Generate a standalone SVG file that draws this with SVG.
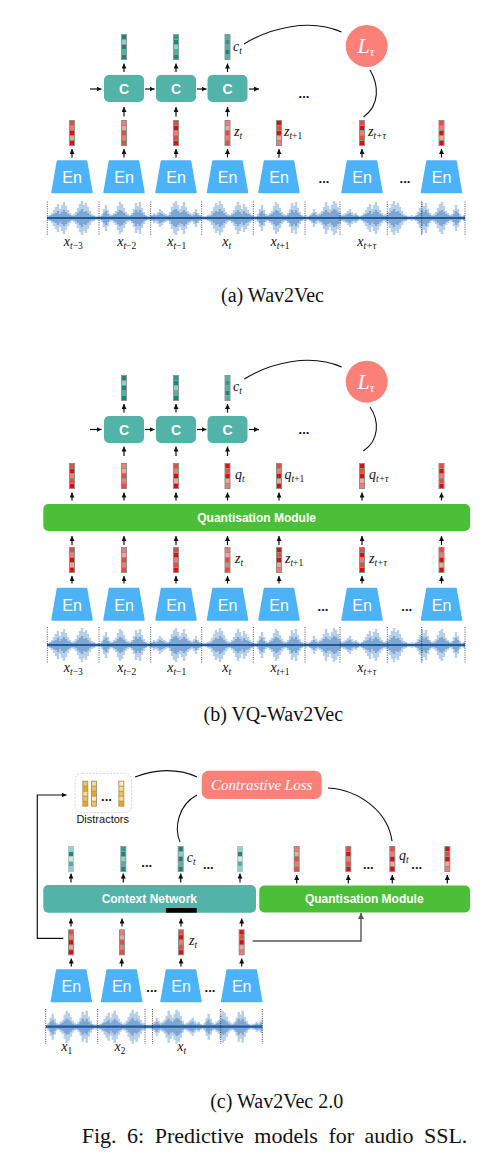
<svg xmlns="http://www.w3.org/2000/svg" xmlns:xlink="http://www.w3.org/1999/xlink" width="496" height="1170" viewBox="0 0 496 1170">
<style>
.ent{font-family:"Liberation Sans",Arial,sans-serif;font-size:16px;fill:#fff;text-anchor:middle}
.cbox{fill:#52b3a8}
.qbox{fill:#4cbf38}
.ct{font-family:"Liberation Sans",Arial,sans-serif;font-weight:bold;font-size:14px;fill:#fff;text-anchor:middle}
.bt{font-family:"Liberation Sans",Arial,sans-serif;font-weight:bold;font-size:12px;fill:#fff;text-anchor:middle}
.arr{stroke:#111;stroke-width:1.2;fill:none;marker-end:url(#ah)}
.arrg{stroke:#555;stroke-width:1.4;fill:none;marker-end:url(#ahg)}
.conn{fill:none;stroke:#111;stroke-width:1.1}
.m{font-family:"Liberation Serif","Times New Roman",serif;font-style:italic;font-size:14px;fill:#111}
.mc{font-family:"Liberation Serif","Times New Roman",serif;font-style:italic;font-size:14px;fill:#111;text-anchor:middle}
.s{font-size:9.5px}
.n{font-style:normal}
.dots{font-family:"Liberation Sans",Arial,sans-serif;font-weight:bold;font-size:13px;fill:#111;text-anchor:middle}
.cap{font-family:"Liberation Serif","Times New Roman",serif;font-size:20px;fill:#111;text-anchor:middle}
.sep{stroke:#222;stroke-width:0.8;stroke-dasharray:1 1.3}
.wl{fill:none;stroke:#b7cfe9;stroke-width:2.4}
.wm{fill:none;stroke:#6f9bcd;stroke-width:2.3;opacity:.8}
.wc{fill:none;stroke:#1f5a9c;stroke-width:2.2}
.loss{fill:#fa8078}
</style>
<defs>
<marker id="ah" viewBox="0 0 10 10" refX="10" refY="5" markerWidth="5" markerHeight="5" markerUnits="userSpaceOnUse" orient="auto"><path d="M0,0L10,5L0,10z" fill="#111"/></marker>
<marker id="ahg" viewBox="0 0 10 10" refX="10" refY="5" markerWidth="6" markerHeight="6" markerUnits="userSpaceOnUse" orient="auto"><path d="M0,0L10,5L0,10z" fill="#555"/></marker>
<clipPath id="clip418"><rect x="0" y="-20" width="418" height="40"/></clipPath>
<clipPath id="clip217"><rect x="0" y="-20" width="216.6" height="40"/></clipPath>
<path id="trap" d="M-14.5,0H14.5L20,31.5H-20Z" fill="#4cb3f9" stroke="#4cb3f9" stroke-width="1.5" stroke-linejoin="round"/>
<g id="segA"><path class="wl" d="M1-2v4M3-3v6M5-5v10M7-8v16M9-11v22M11-14v28M13-9v18M15-13v26M17-16v32M19-12v24M21-8v16M23-5v10M25-3v6M27-4v8M29-6v12M31-10v20M33-14v28M35-17v34M37-13v26M39-15v30M41-11v22M43-7v14M45-4v8M47-3v6M49-2v4M51-2v4"/><path class="wm" d="M1-1v2M3-2v4M5-3v6M7-4v8M9-5v10M11-7v14M13-4v8M15-6v12M17-8v16M19-6v12M21-4v8M23-3v6M25-2v4M27-2v4M29-3v6M31-5v10M33-7v14M35-9v18M37-6v12M39-7v14M41-5v10M43-3v6M45-2v4M47-2v4M49-1v2M51-1v2"/></g>
<g id="segB"><path class="wl" d="M1-2v4M3-4v8M5-9v18M7-13v26M9-8v16M11-4v8M13-3v6M15-5v10M17-7v14M19-12v24M21-16v32M23-14v28M25-10v20M27-6v12M29-4v8M31-3v6M33-5v10M35-9v18M37-15v30M39-12v24M41-16v32M43-10v20M45-6v12M47-3v6M49-2v4M51-3v6"/><path class="wm" d="M1-1v2M3-2v4M5-5v10M7-7v14M9-4v8M11-2v4M13-2v4M15-3v6M17-4v8M19-6v12M21-8v16M23-7v14M25-5v10M27-3v6M29-2v4M31-2v4M33-3v6M35-5v10M37-8v16M39-6v12M41-8v16M43-5v10M45-3v6M47-2v4M49-1v2M51-1v2"/></g>
<g id="segC"><path class="wl" d="M1-3v6M3-5v10M5-4v8M7-6v12M9-9v18M11-7v14M13-5v10M15-4v8M17-3v6M19-6v12M21-11v22M23-15v30M25-17v34M27-13v26M29-9v18M31-12v24M33-16v32M35-11v22M37-7v14M39-5v10M41-4v8M43-6v12M45-9v18M47-5v10M49-3v6M51-2v4"/><path class="wm" d="M1-2v4M3-3v6M5-2v4M7-3v6M9-5v10M11-4v8M13-3v6M15-2v4M17-2v4M19-3v6M21-6v12M23-8v16M25-9v18M27-7v14M29-5v10M31-6v12M33-8v16M35-6v12M37-4v8M39-3v6M41-2v4M43-3v6M45-5v10M47-3v6M49-2v4M51-1v2"/></g>
<g id="wave418"><g clip-path="url(#clip418)">
<use href="#segA" x="0"/><use href="#segB" x="52"/><use href="#segC" x="104"/>
<use href="#segA" transform="translate(208,0) scale(-1,1)"/><use href="#segB" x="208"/>
<use href="#segC" transform="translate(312,0) scale(-1,1)"/><use href="#segA" x="312"/>
<use href="#segB" transform="translate(416,0) scale(-1,1)"/><use href="#segC" x="416"/>
<path class="wc" d="M0,0H418"/></g></g>
<g id="wave217"><g clip-path="url(#clip217)">
<use href="#segB" x="0"/><use href="#segA" x="52"/>
<use href="#segC" transform="translate(156,0) scale(-1,1)"/><use href="#segB" x="156"/><use href="#segC" x="208"/>
<path class="wc" d="M0,0H217"/></g></g>
<g id="vr1"><rect width="6" height="26" fill="#8e8e8e"/><rect x="1" y="1" width="4" height="4" fill="#ec4a40"/><rect x="1" y="6" width="4" height="4" fill="#f27b72"/><rect x="1" y="11" width="4" height="4" fill="#e30b0b"/><rect x="1" y="16" width="4" height="4" fill="#f6a29b"/><rect x="1" y="21" width="4" height="4" fill="#e30b0b"/></g>
<g id="vr2"><rect width="6" height="26" fill="#8e8e8e"/><rect x="1" y="1" width="4" height="4" fill="#f27b72"/><rect x="1" y="6" width="4" height="4" fill="#f6a29b"/><rect x="1" y="11" width="4" height="4" fill="#ec4a40"/><rect x="1" y="16" width="4" height="4" fill="#f27b72"/><rect x="1" y="21" width="4" height="4" fill="#ec4a40"/></g>
<g id="vr3"><rect width="6" height="26" fill="#8e8e8e"/><rect x="1" y="1" width="4" height="4" fill="#ec4a40"/><rect x="1" y="6" width="4" height="4" fill="#e30b0b"/><rect x="1" y="11" width="4" height="4" fill="#f27b72"/><rect x="1" y="16" width="4" height="4" fill="#ec4a40"/><rect x="1" y="21" width="4" height="4" fill="#e30b0b"/></g>
<g id="vr4"><rect width="6" height="26" fill="#8e8e8e"/><rect x="1" y="1" width="4" height="4" fill="#e30b0b"/><rect x="1" y="6" width="4" height="4" fill="#ec4a40"/><rect x="1" y="11" width="4" height="4" fill="#e30b0b"/><rect x="1" y="16" width="4" height="4" fill="#f6a29b"/><rect x="1" y="21" width="4" height="4" fill="#f27b72"/></g>
<g id="vt1"><rect width="6" height="26" fill="#8e9a98"/><rect x="1" y="1" width="4" height="4" fill="#15897c"/><rect x="1" y="6" width="4" height="4" fill="#8fd1c7"/><rect x="1" y="11" width="4" height="4" fill="#15897c"/><rect x="1" y="16" width="4" height="4" fill="#4fb0a4"/><rect x="1" y="21" width="4" height="4" fill="#15897c"/></g>
<g id="vt2"><rect width="6" height="26" fill="#8e9a98"/><rect x="1" y="1" width="4" height="4" fill="#2b9c8f"/><rect x="1" y="6" width="4" height="4" fill="#15897c"/><rect x="1" y="11" width="4" height="4" fill="#8fd1c7"/><rect x="1" y="16" width="4" height="4" fill="#4fb0a4"/><rect x="1" y="21" width="4" height="4" fill="#15897c"/></g>
<g id="vt3"><rect width="6" height="26" fill="#8e9a98"/><rect x="1" y="1" width="4" height="4" fill="#4fb0a4"/><rect x="1" y="6" width="4" height="4" fill="#2b9c8f"/><rect x="1" y="11" width="4" height="4" fill="#4fb0a4"/><rect x="1" y="16" width="4" height="4" fill="#15897c"/><rect x="1" y="21" width="4" height="4" fill="#4fb0a4"/></g>
<g id="vt4"><rect width="6" height="26" fill="#b5c4c2"/><rect x="1" y="1" width="4" height="4" fill="#8fd1c7"/><rect x="1" y="6" width="4" height="4" fill="#15897c"/><rect x="1" y="11" width="4" height="4" fill="#c8ebe6"/><rect x="1" y="16" width="4" height="4" fill="#4fb0a4"/><rect x="1" y="21" width="4" height="4" fill="#8fd1c7"/></g>
<g id="vy1"><rect width="6" height="26" fill="#a89a80"/><rect x="1" y="1" width="4" height="4" fill="#f4c24a"/><rect x="1" y="6" width="4" height="4" fill="#eea70f"/><rect x="1" y="11" width="4" height="4" fill="#f9dc8c"/><rect x="1" y="16" width="4" height="4" fill="#f4c24a"/><rect x="1" y="21" width="4" height="4" fill="#eea70f"/></g>
<g id="vy2"><rect width="6" height="26" fill="#a89a80"/><rect x="1" y="1" width="4" height="4" fill="#f9dc8c"/><rect x="1" y="6" width="4" height="4" fill="#f4c24a"/><rect x="1" y="11" width="4" height="4" fill="#eea70f"/><rect x="1" y="16" width="4" height="4" fill="#fcebbd"/><rect x="1" y="21" width="4" height="4" fill="#f4c24a"/></g>
<g id="vy3"><rect width="6" height="26" fill="#a89a80"/><rect x="1" y="1" width="4" height="4" fill="#fcebbd"/><rect x="1" y="6" width="4" height="4" fill="#f9dc8c"/><rect x="1" y="11" width="4" height="4" fill="#f4c24a"/><rect x="1" y="16" width="4" height="4" fill="#f9dc8c"/><rect x="1" y="21" width="4" height="4" fill="#eea70f"/></g>
</defs>
<rect width="496" height="1170" fill="#fff"/>

<!-- ========== (a) Wav2Vec ========== -->
<g id="a-wave">
<use href="#wave418" x="47" y="218"/>
<path class="sep" d="M47.3,201.5V235M99,201.5V235M150.7,201.5V235M201.7,201.5V235M253.3,201.5V235M305,201.5V235M340,201.5V235M387.3,201.5V235M421.7,201.5V235M465,201.5V235"/>
</g>
<g id="a-xlabels">
<text class="mc" x="73.3" y="246">x<tspan class="s" dy="3">t<tspan class="n">−3</tspan></tspan></text>
<text class="mc" x="126.7" y="246">x<tspan class="s" dy="3">t<tspan class="n">−2</tspan></tspan></text>
<text class="mc" x="176.7" y="246">x<tspan class="s" dy="3">t<tspan class="n">−1</tspan></tspan></text>
<text class="mc" x="226.7" y="246">x<tspan class="s" dy="3">t</tspan></text>
<text class="mc" x="280" y="246">x<tspan class="s" dy="3">t<tspan class="n">+1</tspan></tspan></text>
<text class="mc" x="366.7" y="246">x<tspan class="s" dy="3">t+τ</tspan></text>
</g>
<g id="a-en1"><use href="#trap" x="72" y="161"/><text class="ent" x="72" y="183">En</text></g>
<g id="a-en2"><use href="#trap" x="124" y="161"/><text class="ent" x="124" y="183">En</text></g>
<g id="a-en3"><use href="#trap" x="176" y="161"/><text class="ent" x="176" y="183">En</text></g>
<g id="a-en4"><use href="#trap" x="227.5" y="161"/><text class="ent" x="227.5" y="183">En</text></g>
<g id="a-en5"><use href="#trap" x="279" y="161"/><text class="ent" x="279" y="183">En</text></g>
<g id="a-en6"><use href="#trap" x="362" y="161"/><text class="ent" x="362" y="183">En</text></g>
<g id="a-en7"><use href="#trap" x="441.5" y="161"/><text class="ent" x="441.5" y="183">En</text></g>
<g id="a-endots"><text class="dots" x="324" y="183">...</text><text class="dots" x="405" y="183">...</text></g>
<g id="a-z">
<use href="#vr1" x="69" y="120"/><use href="#vr2" x="121" y="120"/><use href="#vr3" x="173" y="120"/><use href="#vr2" x="224.5" y="120"/><use href="#vr4" x="276" y="120"/><use href="#vr3" x="359" y="120"/><use href="#vr1" x="438.5" y="120"/>
<text class="m" x="234" y="136">z<tspan class="s" dy="3">t</tspan></text>
<text class="m" x="284" y="136">z<tspan class="s" dy="3">t<tspan class="n">+1</tspan></tspan></text>
<text class="m" x="368" y="136">z<tspan class="s" dy="3">t+τ</tspan></text>
</g>
<g id="a-c1"><rect class="cbox" x="104" y="75" width="40" height="27" rx="5"/><text class="ct" x="124" y="93.8">C</text></g>
<g id="a-c2"><rect class="cbox" x="156" y="75" width="40" height="27" rx="5"/><text class="ct" x="176" y="93.8">C</text></g>
<g id="a-c3"><rect class="cbox" x="207.5" y="75" width="40" height="27" rx="5"/><text class="ct" x="227.5" y="93.8">C</text></g>
<g id="a-cvec">
<use href="#vt1" x="121" y="34"/><use href="#vt2" x="173" y="34"/><use href="#vt3" x="224.5" y="34"/>
<text class="m" x="233" y="51">c<tspan class="s" dy="3">t</tspan></text>
<text class="dots" x="304" y="98">...</text>
</g>
<g id="a-loss"><circle class="loss" cx="366.7" cy="46" r="21"/><text x="366" y="53" font-family="Liberation Serif,serif" font-style="italic" font-size="22" fill="#fff" text-anchor="middle">L<tspan dy="3" font-size="13">τ</tspan></text></g>
<g id="a-connectors">
<path class="arr" d="M72,157.5V149"/><path class="arr" d="M124,157.5V149"/><path class="arr" d="M176,157.5V149"/><path class="arr" d="M227.5,157.5V149"/><path class="arr" d="M279,157.5V149"/><path class="arr" d="M362,157.5V149"/><path class="arr" d="M441.5,157.5V149"/>
<path class="arr" d="M124,116.5V107"/><path class="arr" d="M176,116.5V107"/><path class="arr" d="M227.5,116.5V107"/>
<path class="arr" d="M124,72V63.5"/><path class="arr" d="M176,72V63.5"/><path class="arr" d="M227.5,72V63.5"/>
<path class="arr" d="M90,89H101.5"/><path class="arr" d="M145,89H154.5"/><path class="arr" d="M197,89H206.5"/><path class="arr" d="M249,89H259"/>
<path class="conn" d="M244,44C270,28 310,18 341.5,32"/>
<path class="conn" d="M370,70C379,85 380,105 363.5,117"/>
</g>
<text class="cap" x="272.5" y="302">(a) Wav2Vec</text>

<!-- ========== (b) VQ-Wav2Vec ========== -->
<g id="b-wave">
<use href="#wave418" x="47" y="645"/>
<path class="sep" d="M47.3,627V663M99,627V663M150.7,627V663M201.7,627V663M253.3,627V663M305,627V663M340,627V663M387.3,627V663M421.7,627V663M465,627V663"/>
</g>
<g id="b-xlabels">
<text class="mc" x="73.3" y="672">x<tspan class="s" dy="3">t<tspan class="n">−3</tspan></tspan></text>
<text class="mc" x="126.7" y="672">x<tspan class="s" dy="3">t<tspan class="n">−2</tspan></tspan></text>
<text class="mc" x="176.7" y="672">x<tspan class="s" dy="3">t<tspan class="n">−1</tspan></tspan></text>
<text class="mc" x="226.7" y="672">x<tspan class="s" dy="3">t</tspan></text>
<text class="mc" x="280" y="672">x<tspan class="s" dy="3">t<tspan class="n">+1</tspan></tspan></text>
<text class="mc" x="366.7" y="672">x<tspan class="s" dy="3">t+τ</tspan></text>
</g>
<g id="b-en1"><use href="#trap" x="72" y="588.5"/><text class="ent" x="72" y="610.5">En</text></g>
<g id="b-en2"><use href="#trap" x="124" y="588.5"/><text class="ent" x="124" y="610.5">En</text></g>
<g id="b-en3"><use href="#trap" x="176" y="588.5"/><text class="ent" x="176" y="610.5">En</text></g>
<g id="b-en4"><use href="#trap" x="227.5" y="588.5"/><text class="ent" x="227.5" y="610.5">En</text></g>
<g id="b-en5"><use href="#trap" x="279" y="588.5"/><text class="ent" x="279" y="610.5">En</text></g>
<g id="b-en6"><use href="#trap" x="362" y="588.5"/><text class="ent" x="362" y="610.5">En</text></g>
<g id="b-en7"><use href="#trap" x="441.5" y="588.5"/><text class="ent" x="441.5" y="610.5">En</text></g>
<g id="b-endots"><text class="dots" x="323" y="610.5">...</text><text class="dots" x="406.7" y="610.5">...</text></g>
<g id="b-z">
<use href="#vr1" x="69" y="547"/><use href="#vr2" x="121" y="547"/><use href="#vr3" x="173" y="547"/><use href="#vr2" x="224.5" y="547"/><use href="#vr4" x="276" y="547"/><use href="#vr3" x="359" y="547"/><use href="#vr1" x="438.5" y="547"/>
<text class="m" x="235" y="563">z<tspan class="s" dy="3">t</tspan></text>
<text class="m" x="285" y="563">z<tspan class="s" dy="3">t<tspan class="n">+1</tspan></tspan></text>
<text class="m" x="369" y="563">z<tspan class="s" dy="3">t+τ</tspan></text>
</g>
<g id="b-quant"><rect class="qbox" x="43.3" y="504" width="426.7" height="27" rx="5"/><text class="bt" x="256.6" y="521.8">Quantisation Module</text></g>
<g id="b-q">
<use href="#vr3" x="69" y="463"/><use href="#vr2" x="121" y="463"/><use href="#vr1" x="173" y="463"/><use href="#vr4" x="224.5" y="463"/><use href="#vr1" x="276" y="463"/><use href="#vr4" x="359" y="463"/><use href="#vr3" x="438.5" y="463"/>
<text class="m" x="235" y="479">q<tspan class="s" dy="3">t</tspan></text>
<text class="m" x="284.5" y="479">q<tspan class="s" dy="3">t<tspan class="n">+1</tspan></tspan></text>
<text class="m" x="369" y="479">q<tspan class="s" dy="3">t+τ</tspan></text>
</g>
<g id="b-c1"><rect class="cbox" x="104" y="416" width="40" height="27" rx="5"/><text class="ct" x="124" y="434.8">C</text></g>
<g id="b-c2"><rect class="cbox" x="156" y="416" width="40" height="27" rx="5"/><text class="ct" x="176" y="434.8">C</text></g>
<g id="b-c3"><rect class="cbox" x="207.5" y="416" width="40" height="27" rx="5"/><text class="ct" x="227.5" y="434.8">C</text></g>
<g id="b-cvec">
<use href="#vt1" x="121" y="375"/><use href="#vt2" x="173" y="375"/><use href="#vt3" x="224.5" y="375"/>
<text class="m" x="233" y="391">c<tspan class="s" dy="3">t</tspan></text>
<text class="dots" x="304" y="434">...</text>
</g>
<g id="b-loss"><circle class="loss" cx="366.7" cy="381.7" r="21"/><text x="366" y="388.7" font-family="Liberation Serif,serif" font-style="italic" font-size="22" fill="#fff" text-anchor="middle">L<tspan dy="3" font-size="13">τ</tspan></text></g>
<g id="b-connectors">
<path class="arr" d="M72,583.5V576"/><path class="arr" d="M124,583.5V576"/><path class="arr" d="M176,583.5V576"/><path class="arr" d="M227.5,583.5V576"/><path class="arr" d="M279,583.5V576"/><path class="arr" d="M362,583.5V576"/><path class="arr" d="M441.5,583.5V576"/>
<path class="arr" d="M72,545V536"/><path class="arr" d="M124,545V536"/><path class="arr" d="M176,545V536"/><path class="arr" d="M227.5,545V536"/><path class="arr" d="M279,545V536"/><path class="arr" d="M362,545V536"/><path class="arr" d="M441.5,545V536"/>
<path class="arr" d="M72,500.5V492.5"/><path class="arr" d="M124,500.5V492.5"/><path class="arr" d="M176,500.5V492.5"/><path class="arr" d="M227.5,500.5V492.5"/><path class="arr" d="M279,500.5V492.5"/><path class="arr" d="M362,500.5V492.5"/><path class="arr" d="M441.5,500.5V492.5"/>
<path class="arr" d="M124,456V446.5"/><path class="arr" d="M176,456V446.5"/><path class="arr" d="M227.5,456V446.5"/>
<path class="arr" d="M124,412.5V404"/><path class="arr" d="M176,412.5V404"/><path class="arr" d="M227.5,412.5V404"/>
<path class="arr" d="M90,429.5H101.5"/><path class="arr" d="M145,429.5H154.5"/><path class="arr" d="M197,429.5H206.5"/><path class="arr" d="M249,429.5H259"/>
<path class="conn" d="M244.3,379C270,363 310,353 341.7,367"/>
<path class="conn" d="M370,407C379,420 380,440 363.3,451"/>
</g>
<text class="cap" x="273.3" y="721">(b) VQ-Wav2Vec</text>

<!-- ========== (c) Wav2Vec 2.0 ========== -->
<g id="c-wave">
<use href="#wave217" x="45.7" y="1026.7"/>
<path class="sep" d="M45.7,1009V1044M97.7,1009V1044M145,1009V1044M152.5,1009V1044M220.7,1009V1044M262.3,1009V1044"/>
</g>
<g id="c-xlabels">
<text class="mc" x="66.7" y="1051">x<tspan class="s n" dy="3">1</tspan></text>
<text class="mc" x="120" y="1051">x<tspan class="s n" dy="3">2</tspan></text>
<text class="mc" x="181.7" y="1051">x<tspan class="s" dy="3">t</tspan></text>
</g>
<g id="c-en1"><use href="#trap" x="71.3" y="970"/><text class="ent" x="71.3" y="991.5">En</text></g>
<g id="c-en2"><use href="#trap" x="121.7" y="970"/><text class="ent" x="121.7" y="991.5">En</text></g>
<g id="c-en3"><use href="#trap" x="181" y="970"/><text class="ent" x="181" y="991.5">En</text></g>
<g id="c-en4"><use href="#trap" x="241.7" y="970"/><text class="ent" x="241.7" y="991.5">En</text></g>
<g id="c-endots"><text class="dots" x="151.7" y="992">...</text><text class="dots" x="210" y="992">...</text></g>
<g id="c-z">
<use href="#vr1" x="68" y="929.3"/><use href="#vr2" x="119" y="929.3"/><use href="#vr3" x="178" y="929.3"/><use href="#vr4" x="238.7" y="929.3"/>
<text class="m" x="189" y="945">z<tspan class="s" dy="3">t</tspan></text>
</g>
<g id="c-context"><rect class="cbox" x="43.3" y="885" width="212.7" height="27.7" rx="5"/><text class="bt" x="149.3" y="903.2">Context Network</text><rect x="166" y="908" width="30.7" height="4.7" fill="#000"/></g>
<g id="c-quant"><rect class="qbox" x="259.3" y="885.5" width="210.7" height="27" rx="5"/><text class="bt" x="364.3" y="903.2">Quantisation Module</text></g>
<g id="c-cvec">
<use href="#vt4" x="68" y="846"/><use href="#vt2" x="120.3" y="846"/><use href="#vt1" x="177.7" y="846"/><use href="#vt4" x="237" y="846"/>
<text class="m" x="186.7" y="862">c<tspan class="s" dy="3">t</tspan></text>
<text class="dots" x="146.7" y="867">...</text><text class="dots" x="208.3" y="868.5">...</text>
</g>
<g id="c-qvec">
<use href="#vr2" x="293.7" y="846"/><use href="#vr3" x="345.3" y="846"/><use href="#vr1" x="389.3" y="846"/><use href="#vr4" x="444.3" y="846"/>
<text class="m" x="399" y="860">q<tspan class="s" dy="3">t</tspan></text>
<text class="dots" x="368.3" y="868.5">...</text><text class="dots" x="416.7" y="868.5">...</text>
</g>
<g id="c-distractors">
<rect x="75" y="773.3" width="56.7" height="39.4" rx="7" fill="#fff" stroke="#d2d2d2" stroke-width="1" stroke-dasharray="2 1.5"/>
<use href="#vy1" x="82.3" y="780.7"/><use href="#vy2" x="91" y="780.7"/><use href="#vy3" x="118.3" y="780.7"/>
<text class="dots" x="106.5" y="801">...</text>
<text x="102.7" y="823" font-family="Liberation Sans,Arial,sans-serif" font-size="11" fill="#111" text-anchor="middle">Distractors</text>
</g>
<g id="c-loss"><rect class="loss" x="201.7" y="770.7" width="120" height="28.3" rx="7"/><text x="261.7" y="790" font-family="Liberation Serif,serif" font-style="italic" font-size="15" fill="#fff" text-anchor="middle">Contrastive Loss</text></g>
<g id="c-connectors">
<path class="arr" d="M71,882.5V873.5"/><path class="arr" d="M123.3,882.5V873.5"/><path class="arr" d="M180.7,882.5V873.5"/><path class="arr" d="M240,882.5V873.5"/>
<path class="arr" d="M296.7,883.5V875"/><path class="arr" d="M348.3,883.5V875"/><path class="arr" d="M392.3,883.5V875"/><path class="arr" d="M447.3,883.5V875"/>
<path class="arr" d="M71,926.5V918.5"/><path class="arr" d="M122,926.5V918.5"/><path class="arr" d="M181,926.5V918.5"/><path class="arr" d="M241.7,926.5V918.5"/>
<path class="arr" d="M71.3,966.5V958.5"/><path class="arr" d="M121.7,966.5V958.5"/><path class="arr" d="M181,966.5V958.5"/><path class="arr" d="M241.7,966.5V958.5"/>
<path class="arr" d="M63.3,938.3H37.3V795H66.5"/>
<path class="arrg" d="M252.7,941H361V913"/>
<path class="conn" d="M135,777C155,769 178,768 197,777"/>
<path class="conn" d="M197,795C178,805 174,828 180,842"/>
<path class="conn" d="M328,788C360,790 388,812 392,841"/>
</g>
<text class="cap" x="276.7" y="1108">(c) Wav2Vec 2.0</text>
<text x="81.7" y="1143" font-family="Liberation Serif,'Times New Roman',serif" font-size="22" word-spacing="5" fill="#111">Fig. 6: Predictive models for audio SSL.</text>
</svg>
